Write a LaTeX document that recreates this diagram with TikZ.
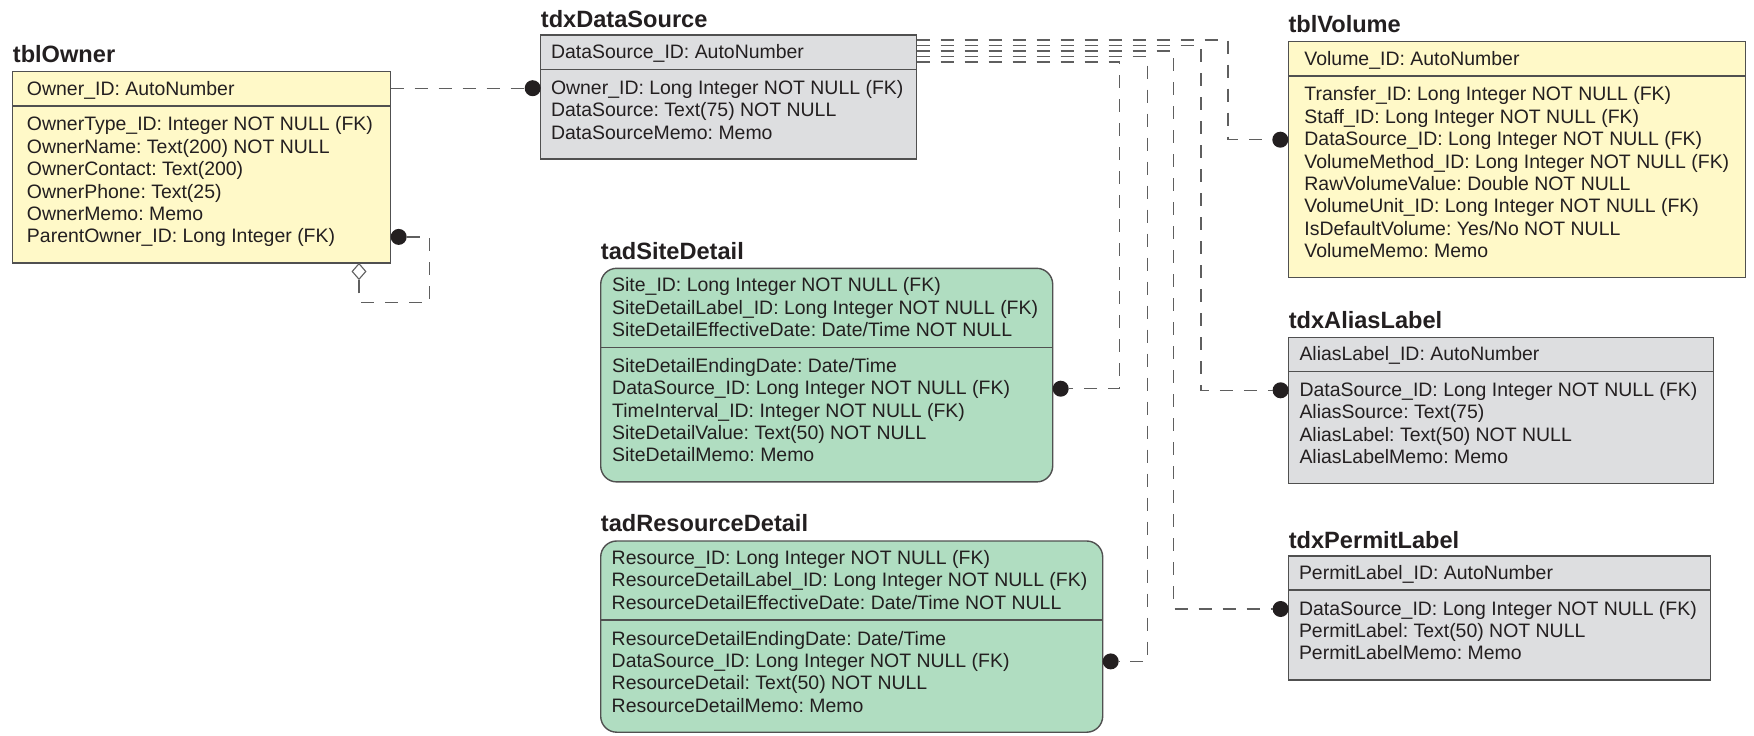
\documentclass[tikz,border=0pt]{standalone}
\usepackage{fontspec}
\setmainfont{Liberation Sans}
\newfontfamily\fA{Liberation Sans}
\frenchspacing
\usetikzlibrary{calc,shapes.geometric}
\definecolor{fillY}{RGB}{255,249,200}
\definecolor{fillG}{RGB}{221,222,224}
\definecolor{fillT}{RGB}{176,221,193}
\definecolor{bord}{RGB}{80,80,80}
\definecolor{lnk}{RGB}{95,95,95}
\definecolor{ink}{RGB}{35,31,32}
\newcommand{\rowfont}{\fontsize{19.45}{22.4}\selectfont\frenchspacing}
\newcommand{\ttlfont}{\fontsize{23.6}{28}\selectfont\bfseries}
\newcommand{\ertrows}[5]{\foreach \t [count=\i from 0] in {#5}{\node[rowtext, font=#4\rowfont] (#1\i) at ({#2},{#3+22.4*\i}) {\t};}}
\tikzset{
  tbl/.style={draw=bord, line width=1.4pt, anchor=north west, inner sep=0pt, outer sep=0pt},
  sepl/.style={draw=bord, line width=1.4pt},
  rowtext/.style={anchor=base west, inner sep=0pt, text height=16pt, text depth=4pt, text=ink},
  ttl/.style={anchor=base west, inner sep=0pt, text=ink},
  conn/.style={draw=lnk, line width=1.2pt, dash pattern=on 13pt off 11pt},
  fkdot/.style={circle, fill=ink, minimum size=16pt, inner sep=0pt, outer sep=0pt},
  diam/.style={diamond, draw=lnk, fill=white, line width=1.1pt, minimum width=14pt, minimum height=16pt, inner sep=0pt},
}
\begin{document}
\begin{tikzpicture}[x=1pt,y=-1pt]
\useasboundingbox (0,0) rectangle (1754,736);

% ---------- tblOwner
\node[tbl, fill=fillY, minimum width=378pt, minimum height=191.2pt] (owner) at (12.7,71.7) {};
\node[ttl, font=\fA\ttlfont] (ownerT) at (12.7,62.3) {tblOwner};
\ertrows{ownerpk}{26.8}{95.2}{\fA}{Owner\_ID: AutoNumber}
\draw[sepl] (owner.west |- 0,105.9) -- (owner.east |- 0,105.9);
\ertrows{ownerb}{26.8}{130.9}{\fA}{OwnerType\_ID: Integer NOT NULL (FK),OwnerName: Text(200) NOT NULL,OwnerContact: Text(200),OwnerPhone: Text(25),OwnerMemo: Memo,ParentOwner\_ID: Long Integer (FK)}

% ---------- tdxDataSource
\node[tbl, fill=fillG, minimum width=376pt, minimum height=124pt] (ds) at (540.7,35) {};
\node[ttl, font=\fA\ttlfont] (dsT) at (540.7,27.3) {tdxDataSource};
\ertrows{dspk}{550.8}{58.5}{\fA}{DataSource\_ID: AutoNumber}
\draw[sepl] (ds.west |- 0,69.2) -- (ds.east |- 0,69.2);
\ertrows{dsb}{550.8}{94.2}{\fA}{Owner\_ID: Long Integer NOT NULL (FK),DataSource: Text(75) NOT NULL,DataSourceMemo: Memo}

% ---------- tblVolume
\node[tbl, fill=fillY, minimum width=457.4pt, minimum height=236pt] (vol) at (1288.3,41.7) {};
\node[ttl, font=\fA\ttlfont] (volT) at (1288.3,32.3) {tblVolume};
\ertrows{volpk}{1304.2}{65.2}{\fA}{Volume\_ID: AutoNumber}
\draw[sepl] (vol.west |- 0,75.9) -- (vol.east |- 0,75.9);
\ertrows{volb}{1304.2}{100.9}{\fA}{Transfer\_ID: Long Integer NOT NULL (FK),Staff\_ID: Long Integer NOT NULL (FK),DataSource\_ID: Long Integer NOT NULL (FK),VolumeMethod\_ID: Long Integer NOT NULL (FK),RawVolumeValue: Double NOT NULL,VolumeUnit\_ID: Long Integer NOT NULL (FK),IsDefaultVolume: Yes/No NOT NULL,VolumeMemo: Memo}

% ---------- tadSiteDetail
\node[tbl, fill=fillT, rounded corners=16pt, minimum width=452pt, minimum height=213.6pt] (site) at (600.7,268.3) {};
\node[ttl, font=\fA\ttlfont] (siteT) at (600.7,259.3) {tadSiteDetail};
\ertrows{sitepk}{612}{291.8}{\fA}{Site\_ID: Long Integer NOT NULL (FK),SiteDetailLabel\_ID: Long Integer NOT NULL (FK),SiteDetailEffectiveDate: Date/Time NOT NULL}
\draw[sepl] (site.west |- 0,347.3) -- (site.east |- 0,347.3);
\ertrows{siteb}{612}{372.3}{\fA}{SiteDetailEndingDate: Date/Time,DataSource\_ID: Long Integer NOT NULL (FK),TimeInterval\_ID: Integer NOT NULL (FK),SiteDetailValue: Text(50) NOT NULL,SiteDetailMemo: Memo}

% ---------- tadResourceDetail
\node[tbl, fill=fillT, rounded corners=16pt, minimum width=502pt, minimum height=191.2pt] (res) at (600.7,541) {};
\node[ttl, font=\fA\ttlfont] (resT) at (600.7,531.7) {tadResourceDetail};
\ertrows{respk}{611.5}{564.5}{\fA}{Resource\_ID: Long Integer NOT NULL (FK),ResourceDetailLabel\_ID: Long Integer NOT NULL (FK),ResourceDetailEffectiveDate: Date/Time NOT NULL}
\draw[sepl] (res.west |- 0,620) -- (res.east |- 0,620);
\ertrows{resb}{611.5}{645}{\fA}{ResourceDetailEndingDate: Date/Time,DataSource\_ID: Long Integer NOT NULL (FK),ResourceDetail: Text(50) NOT NULL,ResourceDetailMemo: Memo}

% ---------- tdxAliasLabel
\node[tbl, fill=fillG, minimum width=424.6pt, minimum height=146.2pt] (alias) at (1288.6,337.3) {};
\node[ttl, font=\fA\ttlfont] (aliasT) at (1288.6,328.3) {tdxAliasLabel};
\ertrows{aliaspk}{1299.3}{360.8}{\fA}{AliasLabel\_ID: AutoNumber}
\draw[sepl] (alias.west |- 0,371.3) -- (alias.east |- 0,371.3);
\ertrows{aliasb}{1299.3}{396.3}{\fA}{DataSource\_ID: Long Integer NOT NULL (FK),AliasSource: Text(75),AliasLabel: Text(50) NOT NULL,AliasLabelMemo: Memo}

% ---------- tdxPermitLabel
\node[tbl, fill=fillG, minimum width=421.9pt, minimum height=124pt] (permit) at (1288.6,556) {};
\node[ttl, font=\fA\ttlfont] (permitT) at (1288.6,548.3) {tdxPermitLabel};
\ertrows{permitpk}{1298.8}{579.5}{\fA}{PermitLabel\_ID: AutoNumber}
\draw[sepl] (permit.west |- 0,590) -- (permit.east |- 0,590);
\ertrows{permitb}{1298.8}{615}{\fA}{DataSource\_ID: Long Integer NOT NULL (FK),PermitLabel: Text(50) NOT NULL,PermitLabelMemo: Memo}

% ---------- relationship end dots
\node[fkdot, anchor=east] (dsdot) at (ds.west |- dsb0) {};
\node[fkdot, anchor=east] (voldot) at (vol.west |- volb2) {};
\node[fkdot, anchor=east] (aliasdot) at (alias.west |- aliasb0) {};
\node[fkdot, anchor=east] (permitdot) at (permit.west |- permitb0) {};
\node[fkdot, anchor=west] (sitedot) at (site.east |- siteb1) {};
\node[fkdot, anchor=west] (resdot) at (res.east |- resb1) {};
\node[fkdot, anchor=west] (ownerdot) at (owner.east |- ownerb5) {};
\node[diam, anchor=north] (odiam) at ($(owner.south east)+(-31.7,0)$) {};

% ---------- connectors
\draw[conn] (owner.east |- dsdot) -- (dsdot);
\coordinate (loopc) at ($(owner.south east)+(38.6,39.8)$);
\draw[conn] (ownerdot) -| (loopc) -| (odiam.south);

\foreach \k in {0,...,4}{\coordinate (ds\k) at ($(ds.north east)+(0,{5+5.5*\k})$);}
\coordinate (volX) at (1228,0);
\coordinate (aliasX) at (1201,0);
\coordinate (permitX) at (1173.5,0);
\coordinate (resX) at (1147.5,0);
\coordinate (siteX) at (1119.5,0);
\draw[conn] (ds0) -| (volX |- voldot) -- (voldot);
\draw[conn] (ds1) -| (aliasX |- aliasdot) -- (aliasdot);
\draw[conn] (ds2) -| (permitX |- permitdot) -- (permitdot);
\draw[conn] (ds3) -| (resX |- resdot) -- (resdot);
\draw[conn] (ds4) -| (siteX |- sitedot) -- (sitedot);
\end{tikzpicture}
\end{document}
